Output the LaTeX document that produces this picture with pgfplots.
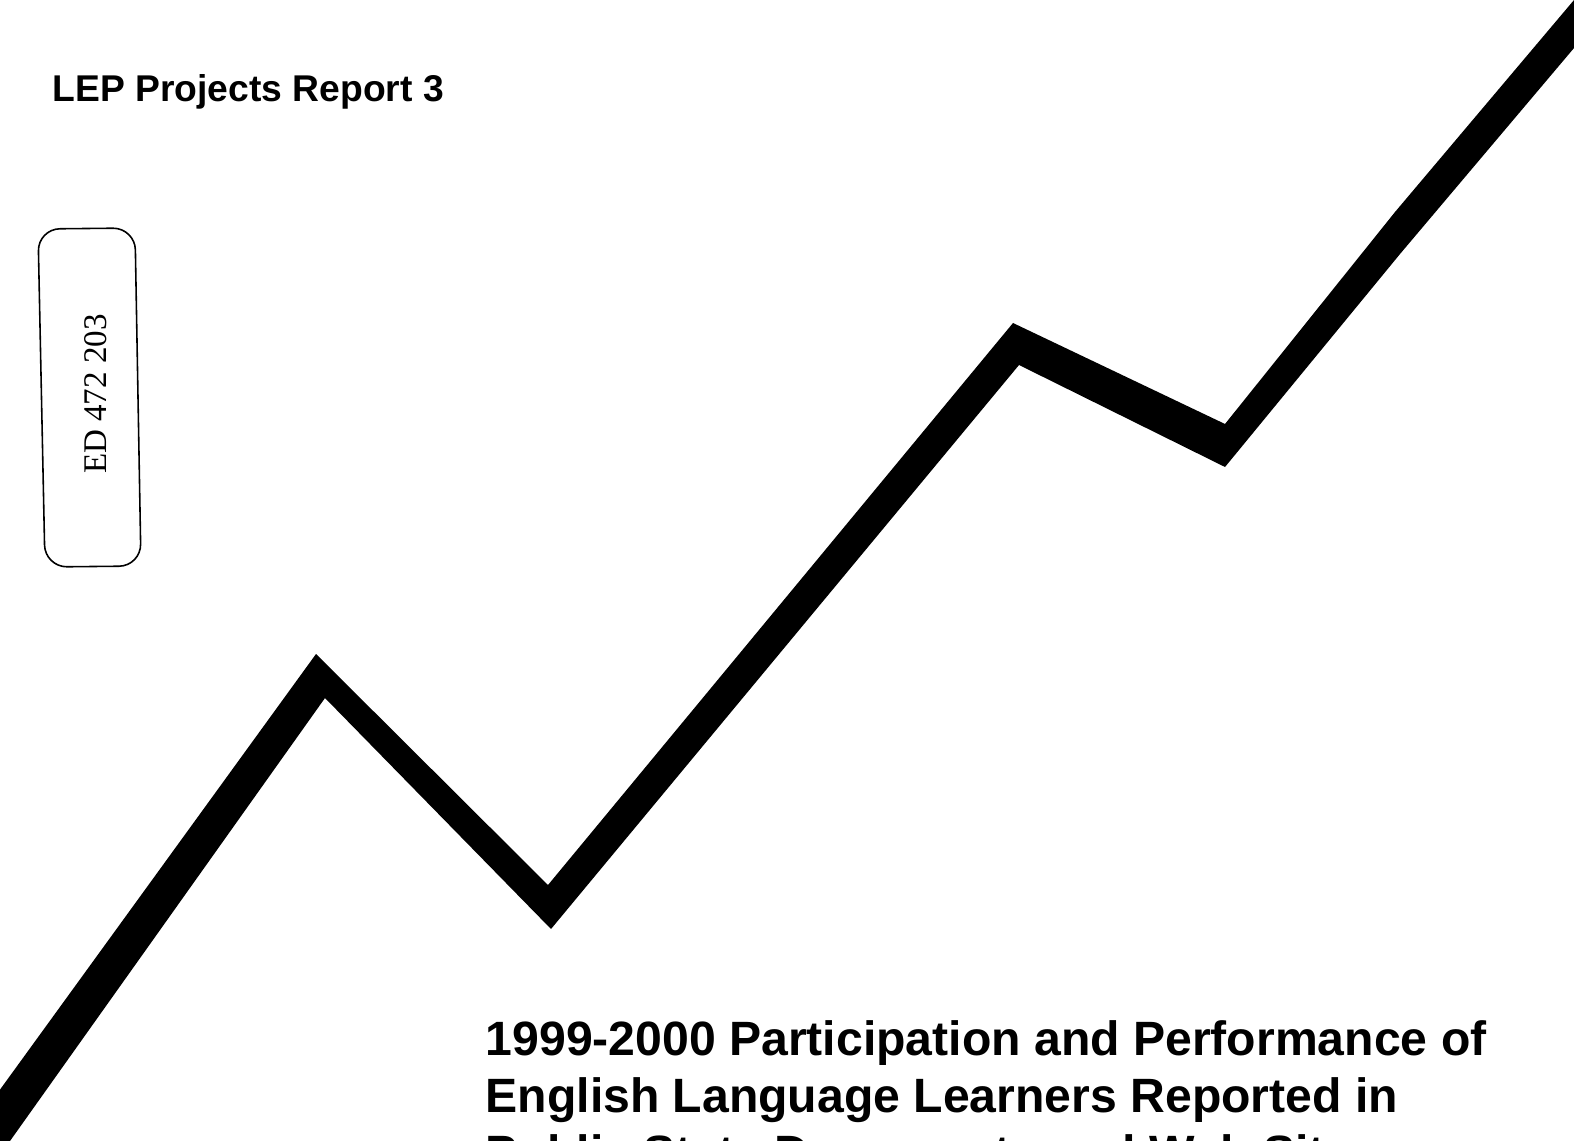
\documentclass[border=0pt]{standalone}
\usepackage{fontspec}
\setmainfont{Liberation Sans}
\newfontfamily\stampfont{Liberation Serif}
\usepackage{pgfplots}
\pgfplotsset{compat=1.18}

\begin{document}
\begin{tikzpicture}
\begin{axis}[
    scale only axis,
    width=15.74cm, height=11.41cm,
    xmin=0, xmax=1574,
    ymin=0, ymax=1141,
    y dir=reverse,
    hide axis,
    clip=true,
]
% the thick zigzag band (upper edge left to right, then lower edge back)
\addplot[fill=black, draw=none] coordinates {
    (-30,1131) (316,654) (548,885) (1013,323) (1225,424)
    (1395,212) (1574,0) (1600,-31)
    (1600,17) (1574,48) (1400,254) (1225,467) (1019,365)
    (551,929) (325,698) (10,1141) (-20,1183)
} -- cycle;

% accession stamp
\addplot[draw=black, line width=0.45pt, rounded corners=2.2mm] coordinates {
    (38,229) (135,228) (141,566) (45,567)
} -- cycle;
\node[rotate=90, anchor=center, inner sep=0, font=\stampfont\fontsize{9.4}{11}\selectfont]
    at (axis cs:96,394) {ED 472 203};

\node[anchor=base west, inner sep=0, font=\bfseries\fontsize{10.6}{12}\selectfont]
    at (axis cs:52,102) {LEP Projects Report 3};

\node[anchor=base west, inner sep=0, font=\bfseries\fontsize{13.7}{16}\selectfont]
    at (axis cs:485,1055) {1999-2000 Participation and Performance of};
\node[anchor=base west, inner sep=0, font=\bfseries\fontsize{13.7}{16}\selectfont]
    at (axis cs:485,1112) {English Language Learners Reported in};
\node[anchor=base west, inner sep=0, font=\bfseries\fontsize{13.7}{16}\selectfont]
    at (axis cs:485,1169) {Public State Documents and Web Sites};

\coordinate (bl) at (axis cs:0,1141);
\coordinate (tr) at (axis cs:1574,0);
\end{axis}
\pgfresetboundingbox
\path[use as bounding box] (bl) rectangle (tr);
\end{tikzpicture}
\end{document}
